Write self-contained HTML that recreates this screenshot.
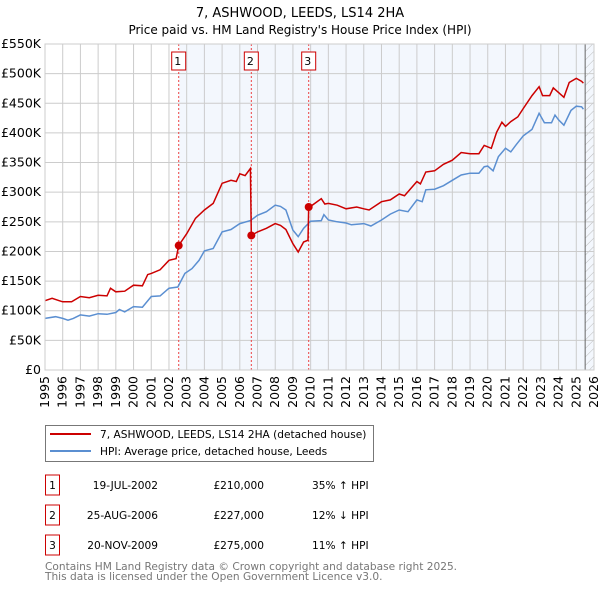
<!DOCTYPE html>
<html><head><meta charset="utf-8"><style>
body{margin:0;background:#fff;font-family:"Liberation Sans","DejaVu Sans",sans-serif;}
#wrap{position:relative;width:600px;height:590px;overflow:hidden;}
svg text{font-family:"DejaVu Sans","Liberation Sans",sans-serif;}
</style></head><body>
<div id="wrap">
<svg id="chart" width="600" height="590"></svg>
</div>
<script>
const hpiYears=[1995,1995.6,1996,1996.3,1996.6,1997,1997.5,1998,1998.5,1999,1999.2,1999.5,2000,2000.5,2001,2001.5,2002,2002.5,2002.9,2003.3,2003.7,2004,2004.5,2005,2005.5,2006,2006.6,2007,2007.5,2008,2008.3,2008.6,2009,2009.3,2009.6,2010,2010.6,2010.75,2011,2011.5,2012,2012.3,2013,2013.4,2014,2014.5,2015,2015.5,2016,2016.3,2016.5,2017,2017.5,2018,2018.5,2019,2019.5,2019.8,2020,2020.3,2020.6,2021,2021.3,2021.6,2022,2022.5,2022.9,2023.2,2023.6,2023.8,2024,2024.3,2024.7,2025,2025.3,2025.4];
const hpiValues=[87,90,87,84,87,93,91,95,94,97,102,98,107,106,124,125,138,140,163,171,185,201,205,233,237,247,252,261,267,278,276,270,236,225,239,251,252,262,253,250,248,245,247,243,253,263,270,267,287,284,304,305,311,320,329,332,332,343,344,336,360,374,368,380,395,406,433,417,417,430,422,413,438,445,444,440];
const redYears=[1995,1995.4,1995.8,1996,1996.5,1997,1997.5,1998,1998.5,1998.7,1999,1999.5,2000,2000.5,2000.8,2001,2001.5,2002,2002.4,2002.55,2003,2003.5,2004,2004.5,2005,2005.5,2005.8,2006,2006.3,2006.6,2006.65,2007,2007.5,2008,2008.3,2008.6,2009,2009.3,2009.6,2009.85,2009.89,2010,2010.6,2010.8,2011,2011.5,2012,2012.6,2013,2013.3,2014,2014.5,2015,2015.3,2016,2016.2,2016.5,2017,2017.5,2018,2018.5,2019,2019.5,2019.8,2020.2,2020.5,2020.8,2021,2021.3,2021.7,2022,2022.5,2022.9,2023.1,2023.5,2023.7,2024,2024.3,2024.6,2025,2025.3,2025.4];
const redValues=[117,121,117,115,115,124,122,126,125,138,132,133,143,142,161,163,169,185,188,210,230,256,270,281,315,320,318,331,328,340,227,233,239,247,244,237,213,199,216,219,275,276,289,280,281,278,272,275,272,270,284,287,297,294,318,314,334,336,347,354,367,365,365,379,374,401,418,411,419,427,441,463,478,463,463,476,468,460,485,492,487,484];
const saleLabels=["1","2","3"];
const saleYears=[2002.55,2006.65,2009.89];
const salePrices=[210,227,275];
const yTicks=[0,50,100,150,200,250,300,350,400,450,500,550];
const xTicks=[1995,1996,1997,1998,1999,2000,2001,2002,2003,2004,2005,2006,2007,2008,2009,2010,2011,2012,2013,2014,2015,2016,2017,2018,2019,2020,2021,2022,2023,2024,2025,2026];

const NS="http://www.w3.org/2000/svg";
const svg=document.getElementById('chart');
const X0=45,X1=594,Y0=370,Y1=44;
const xs=y=>X0+(y-1995)/(2026-1995)*(X1-X0);
const ys=v=>Y0-v/550*(Y0-Y1);
function mk(tag,attrs,parent){const e=document.createElementNS(NS,tag);for(const k in attrs)e.setAttribute(k,attrs[k]);(parent||svg).appendChild(e);return e;}

let t=mk('text',{x:300,y:17,'text-anchor':'middle','font-size':13});t.textContent='7, ASHWOOD, LEEDS, LS14 2HA';


t=mk('text',{x:300,y:34,'text-anchor':'middle','font-size':12});t.textContent="Price paid vs. HM Land Registry's House Price Index (HPI)";



let r=mk('rect',{x:xs(saleYears[0]),y:Y1,width:X1-xs(saleYears[0]),height:Y0-Y1,fill:'#eef3fc',opacity:0.7});


const defs=mk('defs',{});
const pat=mk('pattern',{id:'hatch',width:6,height:6,patternUnits:'userSpaceOnUse',patternTransform:'rotate(45)'},defs);
mk('line',{x1:0,y1:0,x2:0,y2:6,stroke:'#bbb','stroke-width':1},pat);
r=mk('rect',{x:xs(2025.5),y:Y1,width:X1-xs(2025.5),height:Y0-Y1,fill:'url(#hatch)'});



yTicks.forEach(v=>{
  mk('line',{x1:X0,x2:X1,y1:ys(v),y2:ys(v),stroke:'#ccc','stroke-width':1});
  const tx=mk('text',{x:X0-4,y:ys(v)+4,'text-anchor':'end','font-size':12.5});tx.textContent=v===0?'£0':'£'+v+'K';
  
  
});
xTicks.forEach(yr=>{
  mk('line',{x1:xs(yr),x2:xs(yr),y1:Y1,y2:Y0,stroke:'#ccc','stroke-width':1});
  const tx=mk('text',{x:0,y:0,'text-anchor':'end','font-size':12.5,transform:`translate(${xs(yr)+4},${Y0+6}) rotate(-90)`});tx.textContent=yr;
  
  
});
mk('line',{x1:xs(2025.5),x2:xs(2025.5),y1:Y1,y2:Y0,stroke:'#666','stroke-width':1});

saleYears.forEach((yr,i)=>{
  const l=mk('line',{x1:xs(yr),x2:xs(yr),y1:Y1,y2:Y0,stroke:'#e44','stroke-width':1,'stroke-dasharray':'2,2'});
  
  
  const b=mk('rect',{x:xs(yr)-7,y:52,width:14,height:18,fill:'#fff',stroke:'#c00','stroke-width':1});
  
  
  const tx=mk('text',{x:xs(yr)-1,y:65,'text-anchor':'middle','font-size':11});tx.textContent=saleLabels[i];
});

const pts=(a,b)=>a.map((y,i)=>xs(y).toFixed(1)+','+ys(b[i]).toFixed(1)).join(' ');
let pl=mk('polyline',{points:pts(hpiYears,hpiValues),fill:'none',stroke:'#5b8fd1','stroke-width':1.5});


pl=mk('polyline',{points:pts(redYears,redValues),fill:'none',stroke:'#cc0000','stroke-width':1.5});


saleYears.forEach((yr,i)=>{
  const c=mk('circle',{cx:xs(yr),cy:ys(salePrices[i]),r:4,fill:'#cc0000'});
  
  
});
mk('rect',{x:X0,y:Y1,width:X1-X0,height:Y0-Y1,fill:'none',stroke:'#ccc'});

// legend
const lg=mk('g',{});


mk('rect',{x:45.5,y:425.5,width:328,height:36,fill:'#fff',stroke:'#777'},lg);
mk('line',{x1:50,x2:91,y1:434,y2:434,stroke:'#cc0000','stroke-width':2},lg);
mk('line',{x1:50,x2:91,y1:451,y2:451,stroke:'#5b8fd1','stroke-width':2},lg);
t=mk('text',{x:100,y:438,'font-size':10.6},lg);t.textContent='7, ASHWOOD, LEEDS, LS14 2HA (detached house)';
t=mk('text',{x:100,y:455,'font-size':10.6},lg);t.textContent='HPI: Average price, detached house, Leeds';

const dates=["19-JUL-2002","25-AUG-2006","20-NOV-2009"];
const prices=["£210,000","£227,000","£275,000"];
const rel=["35% ↑ HPI","12% ↓ HPI","11% ↑ HPI"];
dates.forEach((d,i)=>{
  const y=483+i*30;
  const g=mk('g',{});
  
  
  mk('rect',{x:45.5,y:y-8,width:14,height:20,fill:'#fff',stroke:'#c00'},g);
  let a=mk('text',{x:52.5,y:y+6,'text-anchor':'middle','font-size':10.6},g);a.textContent=saleLabels[i];
  a=mk('text',{x:158,y:y+6,'text-anchor':'end','font-size':10.6},g);a.textContent=d;
  a=mk('text',{x:264,y:y+6,'text-anchor':'end','font-size':10.6},g);a.textContent=prices[i];
  a=mk('text',{x:312,y:y+6,'font-size':10.6},g);a.textContent=rel[i];
});
t=mk('text',{x:45,y:570,'font-size':10.6,fill:'#777'});t.textContent='Contains HM Land Registry data © Crown copyright and database right 2025.';


t=mk('text',{x:45,y:580,'font-size':10.6,fill:'#777'});t.textContent='This data is licensed under the Open Government Licence v3.0.';


</script>
</body></html>
